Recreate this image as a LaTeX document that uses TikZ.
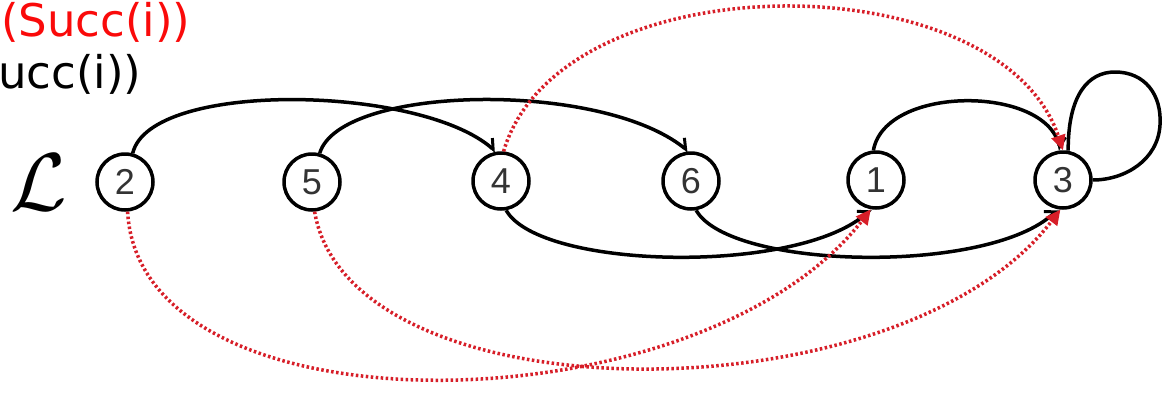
\documentclass[tikz,border=0pt]{standalone}
\usepackage{fontspec}
\setsansfont{Liberation Sans}
\newfontfamily\lblfont{DejaVu Sans}
\usetikzlibrary{arrows.meta}
\definecolor{dotred}{RGB}{215,30,40}
\definecolor{txtred}{RGB}{250,10,10}
\begin{document}
\begin{tikzpicture}[x=1pt,y=-1pt,
  vnode/.style={circle, draw, fill=white, line width=3.5pt, minimum size=56pt, inner sep=0pt,
    font=\sffamily\fontsize{36}{36}\selectfont, text=black!80},
  succ/.style={line width=3.5pt, -{Straight Barb[left,length=8pt,width=16pt,line width=3pt]}},
  plain/.style={line width=3.5pt},
  rarr/.style={dotred, line width=3.5pt, dash pattern=on 2.5pt off 2.5pt,
    -{Triangle[length=15pt,width=14pt]}},
  lbl/.style={anchor=base west, inner sep=0pt, font=\lblfont\fontsize{45}{45}\selectfont}]
\useasboundingbox (0,0) rectangle (1163,394);
\fill[white] (0,0) rectangle (1163,394);

\node[lbl, text=txtred] (t1) at (1,36) {(Succ(i))};
\node[lbl, text=black] (t2) at (-2,88) {ucc(i))};
\node[inner sep=0pt] (L) at (39,182) {\scalebox{8.2}{$\mathcal{L}$}};

\node[vnode] (n2) at (125,182) {2};
\node[vnode] (n5) at (312,182) {5};
\node[vnode] (n4) at (501,181) {4};
\node[vnode] (n6) at (691,181) {6};
\node[vnode] (n1) at (876,180) {1};
\node[vnode] (n3) at (1063,180) {3};

% successor list (black)
\draw[succ] (n2.75) .. controls (150,80) and (420,85) .. (n4.100);
\draw[succ] (n5.75) .. controls (340,85) and (600,80) .. (n6.95);
\draw[succ] (n4.-80) .. controls (540,270) and (800,275) .. (n1.-100);
\draw[succ] (n6.-80) .. controls (730,270) and (990,275) .. (n3.-100);
\draw[succ] (n1.95) .. controls (885,85) and (1045,85) .. (n3.95);
\draw[plain] (n3.80) .. controls (1068,95) and (1088,72) .. (1115,72)
  .. controls (1145,72) and (1162,95) .. (1160,125)
  .. controls (1158,160) and (1125,180) .. (n3.east);

% Succ(Succ(i)) (red dotted)
\draw[rarr] (n4.85) .. controls (560,-40) and (1000,-40) .. (n3.north);
\draw[rarr] (n2.-85) .. controls (140,440) and (700,430) .. (n1.-100);
\draw[rarr] (n5.-85) .. controls (350,420) and (900,420) .. (n3.-95);
\end{tikzpicture}
\end{document}
